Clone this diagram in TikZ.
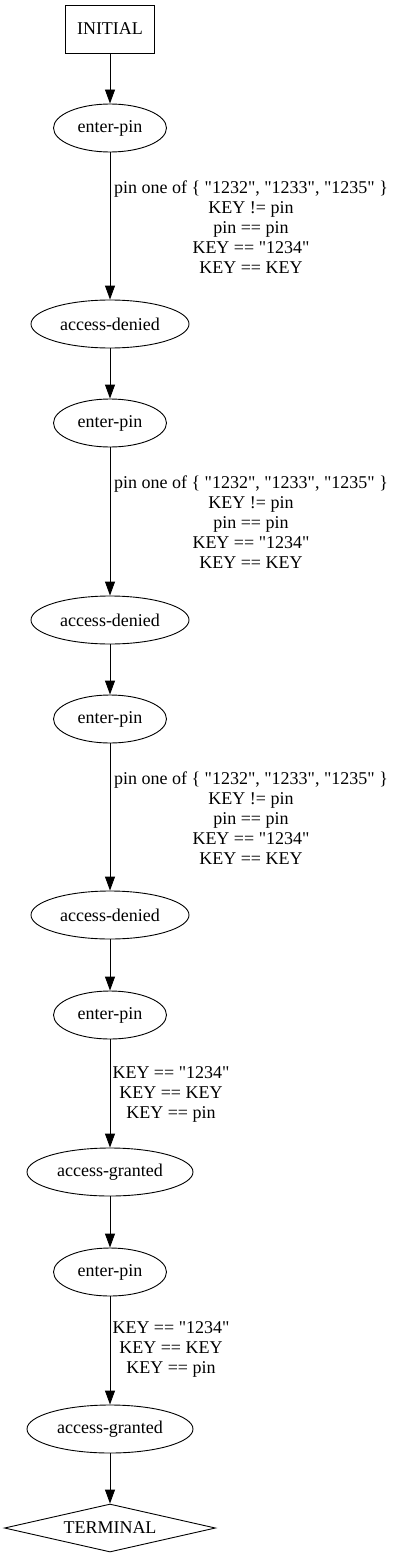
\documentclass[tikz,border=0pt]{standalone}
\usepackage{fontspec}
\setmainfont{Liberation Serif}[Ligatures=TeXOff]
\usetikzlibrary{shapes.geometric,arrows.meta}
\newcommand\dq{\symbol{34}}
\begin{document}
\begin{tikzpicture}[x=1pt,y=-1pt,
  every node/.style={font=\fontsize{18}{20}\selectfont, inner sep=0pt},
  st/.style={draw, line width=0.9pt, ellipse, minimum height=48pt},
  edge/.style={draw, line width=0.9pt, -{Triangle[length=14pt,width=10pt]}},
  lbl/.style={align=center}]
\useasboundingbox (0,0) rectangle (400,1557);
\node[draw, line width=0.9pt, rectangle, minimum width=89pt, minimum height=48pt] (init) at (110,29) {INITIAL};
\node[st, minimum width=113pt] (e1) at (110,128) {enter-pin};
\node[st, minimum width=158pt] (d1) at (110,324) {access-denied};
\node[st, minimum width=113pt] (e2) at (110,423) {enter-pin};
\node[st, minimum width=158pt] (d2) at (110,620) {access-denied};
\node[st, minimum width=113pt] (e3) at (110,719) {enter-pin};
\node[st, minimum width=158pt] (d3) at (110,915) {access-denied};
\node[st, minimum width=113pt] (e4) at (110,1015) {enter-pin};
\node[st, minimum width=166pt] (g1) at (110,1172) {access-granted};
\node[st, minimum width=113pt] (e5) at (110,1272) {enter-pin};
\node[st, minimum width=166pt] (g2) at (110,1429) {access-granted};
\node[draw, line width=0.9pt, diamond, shape aspect=4.4, minimum width=211pt, minimum height=48pt] (term) at (110,1528) {TERMINAL};

\draw[edge] (init) -- (e1);
\draw[edge] (e1) -- (d1);
\draw[edge] (d1) -- (e2);
\draw[edge] (e2) -- (d2);
\draw[edge] (d2) -- (e3);
\draw[edge] (e3) -- (d3);
\draw[edge] (d3) -- (e4);
\draw[edge] (e4) -- (g1);
\draw[edge] (g1) -- (e5);
\draw[edge] (e5) -- (g2);
\draw[edge] (g2) -- (term);

\node[lbl] (l1) at (251,227) {pin one of \{ \dq1232\dq, \dq1233\dq, \dq1235\dq\ \}\\KEY != pin\\pin == pin\\KEY == \dq1234\dq\\KEY == KEY};
\node[lbl] (l2) at (251,522) {pin one of \{ \dq1232\dq, \dq1233\dq, \dq1235\dq\ \}\\KEY != pin\\pin == pin\\KEY == \dq1234\dq\\KEY == KEY};
\node[lbl] (l3) at (251,818) {pin one of \{ \dq1232\dq, \dq1233\dq, \dq1235\dq\ \}\\KEY != pin\\pin == pin\\KEY == \dq1234\dq\\KEY == KEY};
\node[lbl] (l4) at (171,1094) {KEY == \dq1234\dq\\KEY == KEY\\KEY == pin};
\node[lbl] (l5) at (171,1349) {KEY == \dq1234\dq\\KEY == KEY\\KEY == pin};
\end{tikzpicture}
\end{document}
